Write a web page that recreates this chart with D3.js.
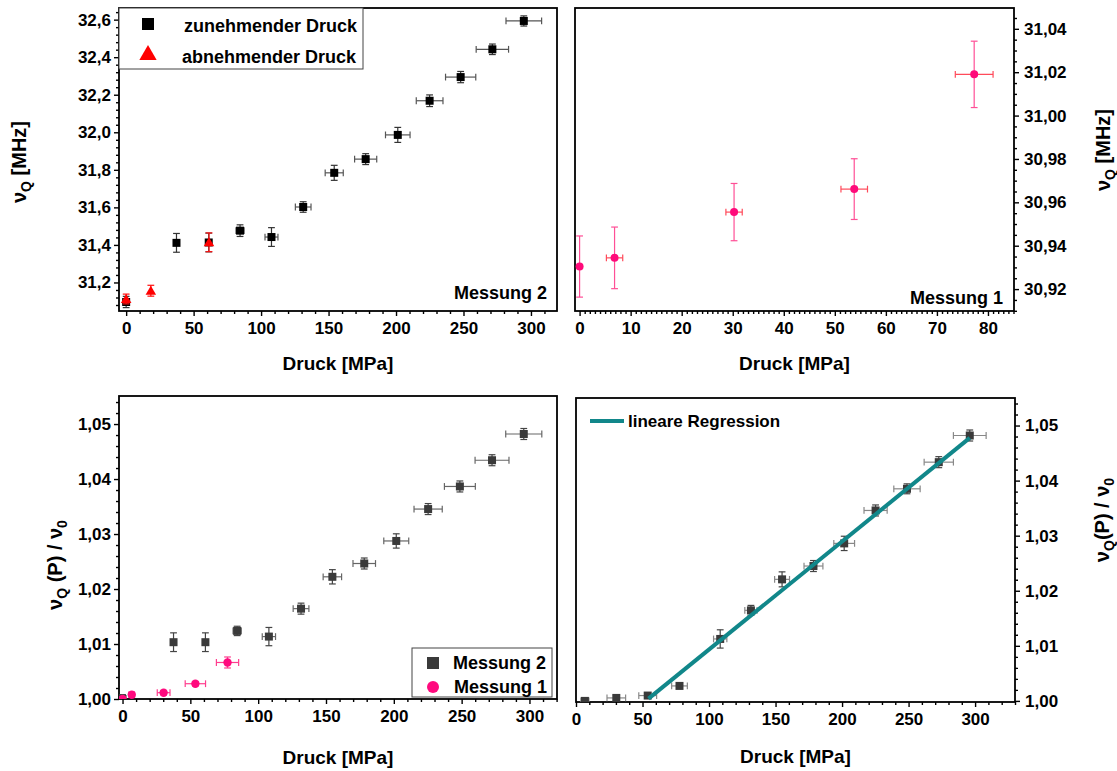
<!DOCTYPE html>
<html>
<head>
<meta charset="utf-8">
<script src="https://cdn.jsdelivr.net/npm/d3@7"></script>
<style>
  html, body { margin: 0; padding: 0; background: #fff; }
  svg { display: block; font-family: "Liberation Sans", Arial, sans-serif; font-weight: bold; }
</style>
</head>
<body>
<svg id="chart" width="1117" height="771"></svg>
<script>
// ---------- Messung 2: ν_Q vs. Druck (zunehmend / abnehmend) ----------
const m2UpP      = [0, 37.3, 61.2, 84.4, 107.7, 131.2, 154.2, 177.5, 201.3, 224.9, 247.9, 271.4, 294.7];
const m2UpPErr   = [0, 0, 0, 3.0, 4.8, 5.8, 6.7, 8.2, 9.1, 9.9, 11.2, 12.0, 13.2];
const m2UpNu     = [31.096, 31.411, 31.413, 31.476, 31.442, 31.602, 31.784, 31.857, 31.986, 32.168, 32.294, 32.442, 32.593];
const m2UpNuErr  = [0.030, 0.050, 0.050, 0.031, 0.050, 0.028, 0.040, 0.029, 0.040, 0.031, 0.030, 0.028, 0.027];

const m2DownP     = [0, 18.3, 61.4];
const m2DownNu    = [31.112, 31.156, 31.414];
const m2DownNuErr = [0.026, 0.029, 0.050];

// ---------- Messung 1: ν_Q vs. Druck ----------
const m1P     = [0, 6.85, 30.26, 53.8, 77.3];
const m1PErr  = [0, 1.6, 1.6, 2.6, 3.7];
const m1Nu    = [30.9304, 30.9344, 30.9555, 30.9661, 31.0190];
const m1NuErr = [0.0141, 0.0142, 0.0132, 0.0140, 0.0153];

// ---------- normiert: ν_Q(P) / ν_0 ----------
const r2P      = [0, 37.6, 61.1, 84.5, 107.9, 131.6, 154.7, 178.2, 201.8, 225.3, 248.7, 272.4, 295.8];
const r2PErr   = [0, 0, 0, 3.0, 4.9, 5.8, 6.8, 8.3, 9.2, 10.4, 11.4, 12.5, 13.3];
const r2Val    = [1.0000, 1.01033, 1.01033, 1.01238, 1.01135, 1.01643, 1.02222, 1.02464, 1.02874, 1.03454, 1.03865, 1.04342, 1.04819];
const r2ValErr = [0.0008, 0.0017, 0.0017, 0.00085, 0.00166, 0.0010, 0.0013, 0.0010, 0.0013, 0.0010, 0.0010, 0.0010, 0.0010];

const r1P      = [0, 6.8, 30.3, 53.7, 77.4];
const r1PErr   = [0, 2.0, 4.7, 7.5, 8.2];
const r1Val    = [1.0000, 1.00078, 1.00115, 1.00278, 1.00664];
const r1ValErr = [0.0003, 0.0004, 0.0004, 0.0004, 0.0010];

// ---------- Gesamtdaten mit linearer Regression ----------
const fitP      = [6.7, 30.3, 53.9, 77.8, 108.4, 131.5, 154.9, 178.5, 201.6, 225.2, 248.8, 272.7, 296.0];
const fitPErr   = [3.0, 7.0, 6.7, 5.9, 5.0, 4.6, 5.6, 7.1, 7.8, 8.7, 9.9, 11.0, 12.3];
const fitVal    = [1.0000, 1.00054, 1.00097, 1.00272, 1.01125, 1.01644, 1.02207, 1.02449, 1.02860, 1.03458, 1.03851, 1.04335, 1.04819];
const fitValErr = [0.0003, 0.0004, 0.0004, 0.0004, 0.00166, 0.0009, 0.00136, 0.0010, 0.0013, 0.0010, 0.0009, 0.0010, 0.0010];
const regIntercept = 0.98974;
const regSlope     = 0.000196;   // 1/MPa
const regRange     = [54.5, 296];

// ---------- tick labels ----------
const ticksTLx = [0, 50, 100, 150, 200, 250, 300];
const ticksTLy = [31.2, 31.4, 31.6, 31.8, 32.0, 32.2, 32.4, 32.6];
const ticksTRx = [0, 10, 20, 30, 40, 50, 60, 70, 80];
const ticksTRy = [30.92, 30.94, 30.96, 30.98, 31.00, 31.02, 31.04];
const ticksRatioY = [1.00, 1.01, 1.02, 1.03, 1.04, 1.05];

const de = d3.formatLocale({ decimal: ",", thousands: ".", grouping: [3], currency: ["", " €"] });

const svg = d3.select("#chart");
const FONT_TICK = 17, FONT_TITLE = 19, FONT_YTITLE = 20;

function minorRange(lo, hi, step, majors) {
  const out = [];
  const n0 = Math.ceil(lo / step - 1e-9), n1 = Math.floor(hi / step + 1e-9);
  for (let i = n0; i <= n1; i++) {
    const v = +(i * step).toFixed(6);
    if (!majors.some(m => Math.abs(m - v) < step * 1e-3)) out.push(v);
  }
  return out;
}

let clipId = 0;
function panel(cfg) {
  const g = svg.append("g");
  const x = d3.scaleLinear().domain(cfg.xDomain).range([cfg.left, cfg.right]);
  const y = d3.scaleLinear().domain(cfg.yDomain).range([cfg.bottom, cfg.top]);

  // minor ticks
  const xMinor = minorRange(cfg.xDomain[0], cfg.xDomain[1], cfg.xMinor, cfg.xTicks);
  const yMinor = minorRange(cfg.yDomain[0], cfg.yDomain[1], cfg.yMinor, cfg.yTicks);
  g.append("g").attr("transform", `translate(0,${cfg.bottom})`)
    .call(d3.axisBottom(x).tickValues(xMinor).tickSize(3).tickSizeOuter(0).tickFormat(""))
    .call(s => s.select(".domain").remove());
  const yAxisMinor = cfg.yRight ? d3.axisRight(y) : d3.axisLeft(y);
  g.append("g").attr("transform", `translate(${cfg.yRight ? cfg.right : cfg.left},0)`)
    .call(yAxisMinor.tickValues(yMinor).tickSize(3).tickSizeOuter(0).tickFormat(""))
    .call(s => s.select(".domain").remove());

  // major ticks + labels
  const xa = g.append("g").attr("transform", `translate(0,${cfg.bottom})`)
    .call(d3.axisBottom(x).tickValues(cfg.xTicks).tickSize(5).tickSizeOuter(0).tickPadding(6).tickFormat(d3.format("d")));
  xa.select(".domain").remove();
  xa.selectAll("text").attr("font-size", FONT_TICK).attr("font-family", "Liberation Sans, Arial, sans-serif")
    .attr("font-weight", "bold").attr("fill", "#000");
  const yAxis = (cfg.yRight ? d3.axisRight(y) : d3.axisLeft(y))
    .tickValues(cfg.yTicks).tickSize(5).tickSizeOuter(0).tickPadding(cfg.yPad).tickFormat(de.format(cfg.yFmt));
  const ya = g.append("g").attr("transform", `translate(${cfg.yRight ? cfg.right : cfg.left},0)`).call(yAxis);
  ya.select(".domain").remove();
  ya.selectAll("text").attr("font-size", FONT_TICK).attr("font-family", "Liberation Sans, Arial, sans-serif")
    .attr("font-weight", "bold").attr("fill", "#000");
  g.selectAll(".tick line").attr("stroke", "#000").attr("stroke-width", 1.4);

  // frame
  g.append("rect").attr("x", cfg.left).attr("y", cfg.top)
    .attr("width", cfg.right - cfg.left).attr("height", cfg.bottom - cfg.top)
    .attr("fill", "none").attr("stroke", "#000").attr("stroke-width", 1.8);

  // clip area for marks
  const id = "clip" + (clipId++);
  g.append("clipPath").attr("id", id).append("rect")
    .attr("x", cfg.left).attr("y", cfg.top)
    .attr("width", cfg.right - cfg.left).attr("height", cfg.bottom - cfg.top);
  const plot = g.append("g").attr("clip-path", `url(#${id})`);

  // x title
  g.append("text").attr("x", (cfg.left + cfg.right) / 2).attr("y", cfg.xTitleY)
    .attr("text-anchor", "middle").attr("font-size", FONT_TITLE).attr("fill", "#000")
    .text("Druck [MPa]");

  return { g, plot, x, y };
}

function errorBars(p, xs, ys, xerr, yerr, colV, colH) {
  const cap = 3.4;
  const data = xs.map((d, i) => ({ x: d, y: ys[i], ex: xerr ? xerr[i] : 0, ey: yerr ? yerr[i] : 0 }));
  const eb = p.plot.append("g").attr("stroke-width", 1.2).attr("fill", "none");
  data.forEach(d => {
    const cx = p.x(d.x), cy = p.y(d.y);
    if (d.ey > 0) {
      const y1 = p.y(d.y - d.ey), y2 = p.y(d.y + d.ey);
      eb.append("line").attr("x1", cx).attr("x2", cx).attr("y1", y1).attr("y2", y2).attr("stroke", colV);
      eb.append("line").attr("x1", cx - cap).attr("x2", cx + cap).attr("y1", y1).attr("y2", y1).attr("stroke", colV);
      eb.append("line").attr("x1", cx - cap).attr("x2", cx + cap).attr("y1", y2).attr("y2", y2).attr("stroke", colV);
    }
    if (d.ex > 0) {
      const x1 = p.x(d.x - d.ex), x2 = p.x(d.x + d.ex);
      eb.append("line").attr("x1", x1).attr("x2", x2).attr("y1", cy).attr("y2", cy).attr("stroke", colH);
      eb.append("line").attr("x1", x1).attr("x2", x1).attr("y1", cy - cap).attr("y2", cy + cap).attr("stroke", colH);
      eb.append("line").attr("x1", x2).attr("x2", x2).attr("y1", cy - cap).attr("y2", cy + cap).attr("stroke", colH);
    }
  });
}

function squares(p, xs, ys, color, size) {
  p.plot.append("g").selectAll("rect").data(xs.map((d, i) => [d, ys[i]])).join("rect")
    .attr("x", d => p.x(d[0]) - size / 2).attr("y", d => p.y(d[1]) - size / 2)
    .attr("width", size).attr("height", size).attr("fill", color);
}
function circles(p, xs, ys, color, r) {
  p.plot.append("g").selectAll("circle").data(xs.map((d, i) => [d, ys[i]])).join("circle")
    .attr("cx", d => p.x(d[0])).attr("cy", d => p.y(d[1])).attr("r", r).attr("fill", color);
}
const triSym = d3.symbol().type(d3.symbolTriangle);
function triangles(p, xs, ys, color, area) {
  p.plot.append("g").selectAll("path").data(xs.map((d, i) => [d, ys[i]])).join("path")
    .attr("transform", d => `translate(${p.x(d[0])},${p.y(d[1]) + 1})`)
    .attr("d", triSym.size(area)).attr("fill", color);
}

function yTitle(x, y, parts) {
  const t = svg.append("text").attr("transform", `translate(${x},${y}) rotate(-90)`)
    .attr("text-anchor", "middle").attr("font-size", FONT_YTITLE).attr("fill", "#000");
  parts.forEach(pt => {
    const s = t.append("tspan").text(pt.t);
    if (pt.sub) s.attr("font-size", 14).attr("dy", 5);
    if (pt.up) s.attr("dy", -5);
  });
}

// ===== oben links: Messung 2 =====
const pTL = panel({
  left: 119, right: 557, top: 8, bottom: 311,
  xDomain: [-5.3, 319.3], yDomain: [31.048, 32.662],
  xTicks: ticksTLx, yTicks: ticksTLy, xMinor: 10, yMinor: 0.04,
  yFmt: ".1f", yPad: 3, xTitleY: 370
});
errorBars(pTL, m2UpP, m2UpNu, m2UpPErr, m2UpNuErr, "#333", "#555");
squares(pTL, m2UpP, m2UpNu, "#000", 8);
errorBars(pTL, m2DownP, m2DownNu, null, m2DownNuErr, "#ff1010", "#ff1010");
triangles(pTL, m2DownP, m2DownNu, "#ff0000", 48);
pTL.g.append("text").attr("x", 547).attr("y", 299).attr("text-anchor", "end")
  .attr("font-size", 18).text("Messung 2");
// legend
const lgTL = pTL.g.append("g");
lgTL.append("rect").attr("x", 119).attr("y", 8).attr("width", 244).attr("height", 61)
  .attr("fill", "#fff").attr("stroke", "#444").attr("stroke-width", 1);
lgTL.append("rect").attr("x", 142).attr("y", 18).attr("width", 12).attr("height", 12).attr("fill", "#000");
lgTL.append("path").attr("transform", "translate(148,55)").attr("d", triSym.size(130)).attr("fill", "#ff0000");
lgTL.append("text").attr("x", 184).attr("y", 32).attr("font-size", 18).text("zunehmender Druck");
lgTL.append("text").attr("x", 182).attr("y", 63).attr("font-size", 18).text("abnehmender Druck");
yTitle(26, 162, [{ t: "ν" }, { t: "Q", sub: true }, { t: " [MHz]", up: true }]);

// ===== oben rechts: Messung 1 =====
const pTR = panel({
  left: 575, right: 1014, top: 8, bottom: 311,
  xDomain: [-0.9, 85.1], yDomain: [30.9099, 31.0496],
  xTicks: ticksTRx, yTicks: ticksTRy, xMinor: 1, yMinor: 0.005,
  yFmt: ".2f", yPad: 5, xTitleY: 370, yRight: true
});
errorBars(pTR, m1P, m1Nu, m1PErr, m1NuErr, "#ff4f96", "#ff4a5a");
circles(pTR, m1P, m1Nu, "#ff0a7a", 4);
pTR.g.append("text").attr("x", 1003).attr("y", 304).attr("text-anchor", "end")
  .attr("font-size", 18).text("Messung 1");
yTitle(1110, 150, [{ t: "ν" }, { t: "Q", sub: true }, { t: " [MHz]", up: true }]);

// ===== unten links: normiert, beide Messungen =====
const pBL = panel({
  left: 119, right: 557, top: 396, bottom: 699,
  xDomain: [-2.6, 320.3], yDomain: [1.0, 1.0551],
  xTicks: ticksTLx, yTicks: ticksRatioY, xMinor: 10, yMinor: 0.002,
  yFmt: ".2f", yPad: 3, xTitleY: 764
});
errorBars(pBL, r2P, r2Val, r2PErr, r2ValErr, "#444", "#666");
squares(pBL, r2P, r2Val, "#3a3a3a", 8);
errorBars(pBL, r1P, r1Val, r1PErr, r1ValErr, "#ff3d8e", "#ff3d8e");
circles(pBL, r1P, r1Val, "#ff0a7e", 4.2);
const lgBL = pBL.g.append("g");
lgBL.append("rect").attr("x", 412).attr("y", 648).attr("width", 140).attr("height", 49)
  .attr("fill", "#fff").attr("stroke", "#444").attr("stroke-width", 1);
lgBL.append("rect").attr("x", 427).attr("y", 657).attr("width", 12).attr("height", 12).attr("fill", "#3a3a3a");
lgBL.append("circle").attr("cx", 433).attr("cy", 687).attr("r", 6).attr("fill", "#ff0a7e");
lgBL.append("text").attr("x", 453).attr("y", 669).attr("font-size", 18).text("Messung 2");
lgBL.append("text").attr("x", 454).attr("y", 693).attr("font-size", 18).text("Messung 1");
yTitle(62, 565, [{ t: "ν" }, { t: "Q", sub: true }, { t: " (P) / ν", up: true }, { t: "0", sub: true }]);

// ===== unten rechts: lineare Regression =====
const pBR = panel({
  left: 576, right: 1015, top: 398, bottom: 702,
  xDomain: [0, 330], yDomain: [0.9998, 1.055],
  xTicks: ticksTLx, yTicks: ticksRatioY, xMinor: 10, yMinor: 0.002,
  yFmt: ".2f", yPad: 5, xTitleY: 763, yRight: true
});
errorBars(pBR, fitP, fitVal, fitPErr, fitValErr, "#444", "#888");
squares(pBR, fitP, fitVal, "#3a3a3a", 8);
const regLine = d3.line().x(d => pBR.x(d)).y(d => pBR.y(regIntercept + regSlope * d));
pBR.plot.append("path").attr("d", regLine(regRange)).attr("fill", "none")
  .attr("stroke", "#11878a").attr("stroke-width", 4);
pBR.g.append("line").attr("x1", 590).attr("x2", 624).attr("y1", 421).attr("y2", 421)
  .attr("stroke", "#11878a").attr("stroke-width", 4);
pBR.g.append("text").attr("x", 628).attr("y", 427).attr("font-size", 17).text("lineare Regression");
yTitle(1109, 520, [{ t: "ν" }, { t: "Q", sub: true }, { t: "(P) / ν", up: true }, { t: "0", sub: true }]);
</script>
</body>
</html>
